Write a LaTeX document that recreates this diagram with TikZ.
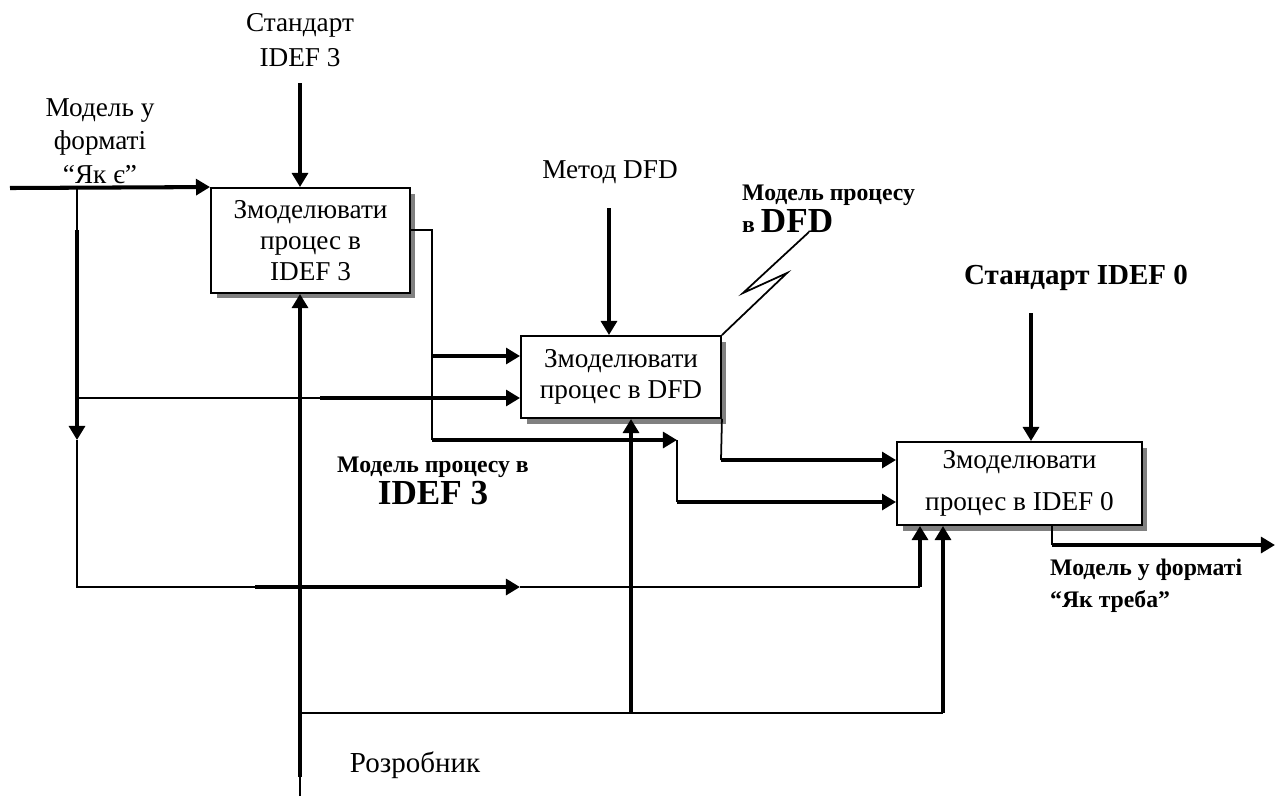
\documentclass[tikz,border=0pt]{standalone}
\usepackage{fontspec}
\setmainfont{Liberation Serif}
\usetikzlibrary{arrows.meta,positioning,calc,shadows}

\begin{document}
\begin{tikzpicture}[x=0.02cm, y=-0.02cm, >={Triangle[length=8pt,width=9pt]},
  link/.style={line width=1pt},
  bold link/.style={line width=2.3pt},
  box/.style={draw, line width=1.1pt, fill=white, align=center, inner sep=0pt,
    drop shadow={shadow xshift=0.11cm, shadow yshift=-0.11cm, fill=gray, opacity=1}},
  lbl/.style={align=center, font=\fontsize{15.5}{19}\selectfont},
  blbl/.style={align=left, font=\bfseries\fontsize{13.5}{18}\selectfont}]
\useasboundingbox (0,0) rectangle (1276,796);
% ---------- boxes ----------
\node[box, minimum width=3.98cm, minimum height=2.1cm,
  font=\fontsize{15.5}{17.5}\selectfont] (idefThree) at (310.5,240.5)
  {Змоделювати\\процес в\\IDEF 3};
\node[box, minimum width=4cm, minimum height=1.64cm,
  font=\fontsize{15.5}{18}\selectfont] (dfd) at (621,377)
  {Змоделювати\\процес в DFD};
\node[box, minimum width=4.9cm, minimum height=1.66cm,
  font=\fontsize{15.5}{24}\selectfont] (idefZero) at (1019.5,483.5)
  {Змоделювати\\процес в IDEF 0};
% ---------- input "Як є" ----------
\node[lbl] (asIsLbl) at (100,141) {Модель у\\форматі\\“Як є”};
\coordinate (asIsIn) at (10,188);
\coordinate (asIsFork) at (77,188);
\draw[bold link,->] (asIsIn) -- (idefThree.north west);
\draw[link] (asIsFork) -- (77,230) coordinate (asIsDown);
\draw[bold link,->] (asIsDown) -- (77,440) coordinate (asIsTip);
\draw[link] (asIsTip) -- (77,587) -- (255,587) coordinate (asIsLow);
\draw[bold link,->] (asIsLow) -- (520,587) coordinate (asIsMid);
\draw[link] (asIsMid) -- (920,587) coordinate (asIsEnd);
\draw[bold link,->] (asIsEnd) -- (asIsEnd |- idefZero.south);
\draw[link] (77,398) -- (320,398) coordinate (asIsDfd);
\draw[bold link,->] (asIsDfd) -- (asIsDfd -| dfd.west);
% ---------- control: IDEF 3 ----------
\node[lbl, font=\fontsize{15.5}{20}\selectfont] (stdThree) at (300,40) {Стандарт\\IDEF 3};
\coordinate (stdThreeEnd) at (300,83);
\draw[bold link,->] (stdThreeEnd) -- (stdThreeEnd |- idefThree.north);
% ---------- mechanism: developer ----------
\node[lbl, font=\fontsize{16.5}{20}\selectfont] (devLbl) at (415,765) {Розробник};
\coordinate (devBottom) at (300,796);
\coordinate (devLow) at (300,777);
\draw[link] (devBottom) -- (devLow);
\draw[bold link,->] (devLow) -- (devLow |- idefThree.south);
\draw[link] (300,713) coordinate (devFork) -- (943,713) coordinate (devEnd);
\draw[bold link,->] (631,713) coordinate (devMid) -- (devMid |- dfd.south);
\draw[bold link,->] (devEnd) -- (devEnd |- idefZero.south);
% ---------- output of IDEF 3 box ----------
\coordinate (outThree) at (432,230);
\draw[link] (outThree -| idefThree.east) -- (outThree) -- (432,440);
\draw[bold link,->] (432,356) coordinate (outThreeA) -- (outThreeA -| dfd.west);
\draw[bold link,->] (432,440) coordinate (outThreeB) -- (677,440) coordinate (outThreeC);
\draw[link] (outThreeC) -- (677,502) coordinate (outThreeD);
\draw[bold link,->] (outThreeD) -- (outThreeD -| idefZero.west);
\node[blbl, align=center, font=\bfseries\fontsize{13.5}{18}\selectfont] (modelThreeLbl) at (433,481)
  {Модель процесу в\\\fontsize{20}{20}\selectfont IDEF 3};
% ---------- control: DFD ----------
\node[lbl] (methodLbl) at (610,172) {Метод DFD};
\coordinate (methodEnd) at (609,208);
\draw[bold link,->] (methodEnd) -- (methodEnd |- dfd.north);
% ---------- output of DFD box ----------
\coordinate (outDfd) at (721,460);
\draw[link] (dfd.south east) -- (outDfd);
\draw[bold link,->] (outDfd) -- (outDfd -| idefZero.west);
\coordinate (tunnelEnd) at (809,232);
\draw[link] (dfd.north east) -- (787,273) -- (743,293) -- (tunnelEnd);
\node[blbl, anchor=west] (dfdLbl) at (736,209)
  {Модель процесу\\в {\fontsize{20}{20}\selectfont DFD}};
% ---------- control: IDEF 0 ----------
\node[font=\bfseries\fontsize{16.5}{20}\selectfont] (stdZero) at (1076,278) {Стандарт IDEF 0};
\coordinate (stdZeroEnd) at (1031,313);
\draw[bold link,->] (stdZeroEnd) -- (stdZeroEnd |- idefZero.north);
% ---------- output "Як треба" ----------
\coordinate (outZero) at (1052,545);
\coordinate (toBeEnd) at (1275,545);
\draw[link] (outZero |- idefZero.south) -- (outZero);
\draw[bold link,->] (outZero) -- (toBeEnd);
\node[blbl, anchor=north west] (toBeLbl) at (1044,553) {Модель у форматі\\“Як треба”};
\end{tikzpicture}
\end{document}
